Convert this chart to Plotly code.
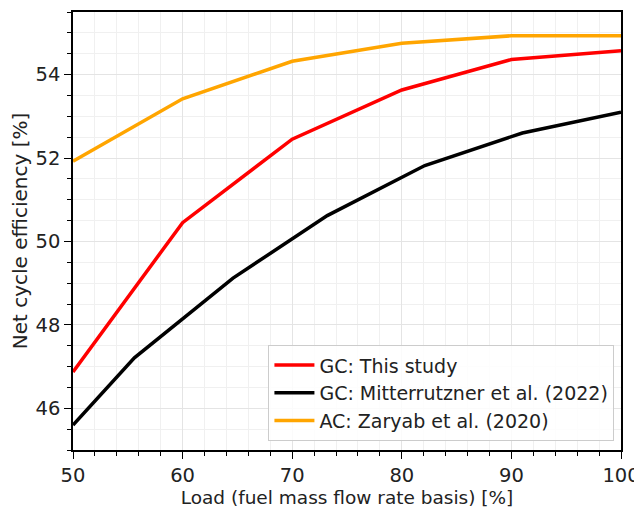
import plotly.graph_objects as go

# Data
load_this = [50, 60, 70, 80, 90, 100]
eff_this = [46.87, 50.45, 52.45, 53.63, 54.36, 54.57]

load_mitt = [50, 55.6, 64.6, 73.2, 82.1, 91.0, 100]
eff_mitt = [45.6, 47.21, 49.12, 50.62, 51.82, 52.6, 53.1]

load_zary = [50, 60, 70, 80, 90, 100]
eff_zary = [51.92, 53.42, 54.32, 54.75, 54.93, 54.93]

names = ["GC: This study", "GC: Mitterrutzner et al. (2022)", "AC: Zaryab et al. (2020)"]
colors = ["#FF0000", "#000000", "#FFA500"]

fig = go.Figure()
for xs, ys, nm, c in zip([load_this, load_mitt, load_zary],
                         [eff_this, eff_mitt, eff_zary], names, colors):
    fig.add_trace(go.Scatter(x=xs, y=ys, mode="lines", name=nm,
                             line=dict(color=c, width=3.5)))

font = dict(family="DejaVu Sans", size=18.5, color="#222222")
tickfont = dict(family="DejaVu Sans", size=19.5, color="#222222")

axis_common = dict(
    showline=True, linecolor="black", linewidth=1.5, mirror=True,
    ticks="outside", ticklen=7, tickwidth=1.3, tickcolor="black",
    showgrid=True, gridcolor="#e4e4e4", gridwidth=1.2,
    zeroline=False, tickfont=tickfont, ticklabeloverflow="allow",
)

fig.update_xaxes(range=[50, 100], dtick=10, tick0=50,
                 title=dict(text="Load (fuel mass flow rate basis) [%]", font=font, standoff=5),
                 minor=dict(dtick=2, ticks="outside", ticklen=4, tickcolor="black",
                            showgrid=True, gridcolor="#f0f0f0", gridwidth=1),
                 **axis_common)
fig.update_yaxes(range=[45, 55.5], dtick=2, tick0=46,
                 title=dict(text="Net cycle efficiency [%]",
                            font=dict(family="DejaVu Sans", size=20, color="#222222"),
                            standoff=6),
                 minor=dict(dtick=0.5, ticks="outside", ticklen=4, tickcolor="black",
                            showgrid=True, gridcolor="#f0f0f0", gridwidth=1),
                 **axis_common)

# The page body adds an 8 px offset, so the figure is sized to fit the window.
fig.update_layout(
    width=634, height=501,
    margin=dict(l=65, r=17, t=2, b=59),
    plot_bgcolor="white", paper_bgcolor="white",
    font=font,
    legend=dict(x=0.988, y=0.02, xanchor="right", yanchor="bottom",
                bgcolor="rgba(255,255,255,0.85)", bordercolor="#cccccc", borderwidth=1,
                font=dict(family="DejaVu Sans", size=19, color="#222222"),
                tracegroupgap=0, itemwidth=40),
    showlegend=True,
)

fig.write_html("out.html")
